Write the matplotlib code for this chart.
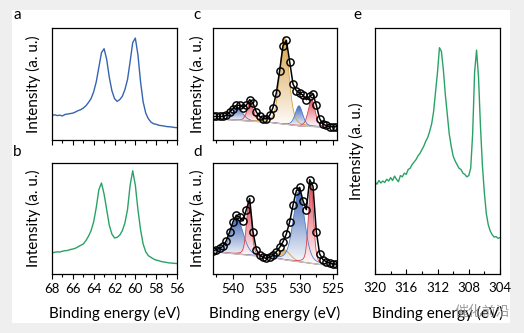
import numpy as np
import matplotlib
matplotlib.use('Agg')
import matplotlib.pyplot as plt
from matplotlib.colors import LinearSegmentedColormap
from matplotlib.ticker import MultipleLocator
from matplotlib.patches import Rectangle

plt.rcParams['font.family'] = ['Lato', 'DejaVu Sans']

# ---------------------------------------------------------------------------
# Data (intensities normalised 0..1 to the frame)
# ---------------------------------------------------------------------------

# a / b : Ga 3d-like region, 68 -> 56 eV, 0.25 eV steps
ab_energy = np.linspace(68, 56, 49)
a_intensity = [
    0.220, 0.225, 0.218, 0.222, 0.215, 0.228, 0.232, 0.236, 0.240,
    0.250, 0.262, 0.270, 0.285, 0.305, 0.335, 0.370, 0.430,
    0.520, 0.650, 0.780, 0.815, 0.720, 0.560, 0.440, 0.370,
    0.345, 0.360, 0.390, 0.450, 0.540, 0.700, 0.870, 0.910,
    0.760, 0.520, 0.340, 0.240, 0.190, 0.160, 0.145, 0.140,
    0.132, 0.128, 0.125, 0.120, 0.118, 0.116, 0.112, 0.110,
]
b_intensity = [
    0.190, 0.195, 0.200, 0.198, 0.205, 0.210, 0.212, 0.220, 0.225,
    0.232, 0.245, 0.258, 0.270, 0.300, 0.340, 0.390, 0.470,
    0.600, 0.760, 0.820, 0.720, 0.580, 0.440, 0.360, 0.325,
    0.330, 0.350, 0.390, 0.460, 0.580, 0.800, 0.930, 0.800,
    0.580, 0.400, 0.270, 0.200, 0.165, 0.150, 0.135, 0.125,
    0.120, 0.112, 0.108, 0.104, 0.100, 0.098, 0.096, 0.094,
]

# c / d : O 1s region, 543 -> 524.5 eV, 0.5 eV steps (measured points)
cd_energy = np.linspace(543, 524.5, 38)
c_points = [
    0.21, 0.21, 0.21, 0.21, 0.22, 0.25, 0.28, 0.31, 0.31, 0.29,
    0.31, 0.36, 0.33, 0.25, 0.21, 0.19, 0.19, 0.22, 0.29, 0.42,
    0.62, 0.84, 0.89, 0.70, 0.50, 0.44, 0.42, 0.40, 0.36, 0.39,
    0.41, 0.31, 0.19, 0.14, 0.13, 0.12, 0.12, 0.12,
]
d_points = [
    0.21, 0.22, 0.23, 0.25, 0.30, 0.38, 0.47, 0.53, 0.51, 0.48,
    0.58, 0.68, 0.38, 0.22, 0.17, 0.15, 0.14, 0.15, 0.17, 0.20,
    0.24, 0.29, 0.36, 0.47, 0.62, 0.75, 0.78, 0.66, 0.58, 0.85,
    0.79, 0.38, 0.18, 0.13, 0.11, 0.10, 0.09, 0.09,
]

# background (Shirley) knots
c_bg_energy = [543, 535, 530, 524.4]
c_bg_level = [0.19, 0.16, 0.125, 0.11]
d_bg_energy = [543, 535, 532, 527, 524.4]
d_bg_level = [0.20, 0.155, 0.125, 0.085, 0.08]

# fitted components: centre (eV), height, FWHM (eV)
comp_colors = ['#3a63b3', '#df4555', '#d59b3c', '#3a63b3', '#df4555']
comp_lines = ['#4b7bd0', '#d9404d', '#d4a040', '#4b7bd0', '#d9404d']
c_centres = [539.3, 537.4, 532.3, 530.1, 528.2]
c_heights = [0.11, 0.17, 0.78, 0.18, 0.24]
c_fwhm = [1.8, 1.1, 1.6, 1.3, 1.2]
d_centres = [539.4, 537.6, 532.3, 530.1, 528.3]
d_heights = [0.32, 0.48, 0.09, 0.64, 0.72]
d_fwhm = [2.2, 0.9, 2.0, 2.0, 0.9]

# e : 320 -> 304 eV, 0.25 eV steps
e_energy = np.linspace(320, 304, 65)
e_intensity = [
    0.375, 0.365, 0.380, 0.370, 0.378, 0.372, 0.385, 0.378,
    0.392, 0.380, 0.398, 0.385, 0.375, 0.400, 0.395, 0.410,
    0.405, 0.425, 0.430, 0.445, 0.455, 0.465, 0.480, 0.490,
    0.505, 0.520, 0.540, 0.555, 0.580, 0.610, 0.660, 0.740,
    0.820, 0.920, 0.905, 0.830, 0.730, 0.650, 0.570, 0.520,
    0.480, 0.460, 0.445, 0.430, 0.425, 0.410, 0.405, 0.395,
    0.400, 0.430, 0.570, 0.820, 0.910, 0.800, 0.600, 0.440,
    0.330, 0.245, 0.200, 0.175, 0.160, 0.150, 0.152, 0.145,
    0.148,
]

BLUE = '#3564b0'
GREEN = '#2aa266'

# ---------------------------------------------------------------------------
# Helpers
# ---------------------------------------------------------------------------

W, H = 524, 333


def rect(l, t, r, b):
    return [l / W, 1 - b / H, (r - l) / W, (b - t) / H]


def pseudo_voigt(x, c, h, w, eta=0.3):
    u = ((x - c) / w) ** 2
    return h * ((1 - eta) * np.exp(-4 * np.log(2) * u) + eta / (1 + 4 * u))


def style(ax, xlim, major, minor, inward=False, labels=True, ypad=7):
    ax.set_xlim(*xlim)
    ax.set_ylim(0, 1)
    ax.set_yticks([])
    ax.xaxis.set_major_locator(MultipleLocator(major))
    ax.xaxis.set_minor_locator(MultipleLocator(minor))
    d = 'in' if inward else 'out'
    ax.tick_params(axis='x', which='major', direction=d, length=3.5,
                   width=0.8, labelsize=9.5, pad=6 if inward else 3)
    ax.tick_params(axis='x', which='minor', direction=d, length=2, width=0.8)
    if not labels:
        ax.tick_params(axis='x', labelbottom=False)
    else:
        ax.set_xlabel('Binding energy (eV)', fontsize=11, labelpad=8)
    for s in ax.spines.values():
        s.set_linewidth(0.9)
    ax.set_ylabel('Intensity (a. u.)', fontsize=11, labelpad=ypad)


def grad_fill(ax, x, base, top, color):
    comp = top - base
    m = comp > 0.004
    xs, b, t = x[m], base[m], top[m]
    poly = ax.fill_between(xs, b, t, facecolor='none', edgecolor='none')
    cmap = LinearSegmentedColormap.from_list('g', ['white', color])
    grad = np.linspace(0, 1, 256).reshape(-1, 1)
    im = ax.imshow(grad, cmap=cmap, aspect='auto', origin='lower',
                   extent=[xs.min(), xs.max(), b.min(), t.max()],
                   zorder=1, alpha=0.95)
    im.set_clip_path(poly.get_paths()[0], transform=ax.transData)


def fitted_panel(ax, pts, bg_e, bg_v, centres, heights, widths):
    x = np.linspace(543, 524.4, 600)
    bg = np.interp(x, bg_e[::-1], bg_v[::-1])
    for c, h, w, fc, lc in zip(centres, heights, widths, comp_colors, comp_lines):
        comp = pseudo_voigt(x, c, h, w)
        grad_fill(ax, x, bg, bg + comp, fc)
        ax.plot(x, bg + comp, color=lc, lw=0.6, zorder=2)
    ax.plot(x, bg, color='#c4c4c4', lw=0.9, zorder=2)
    ax.plot(cd_energy, pts, color='black', lw=1.1, zorder=3)
    ax.plot(cd_energy, pts, ls='none', marker='o', ms=5.2, mfc='none',
            mec='black', mew=1.05, zorder=4)


# ---------------------------------------------------------------------------
# Figure
# ---------------------------------------------------------------------------

fig = plt.figure(figsize=(W / 100, H / 100), dpi=100, facecolor='#efefef')
fig.patches.append(Rectangle((12 / W, 1 - 323 / H), 498 / W, 313 / H,
                             transform=fig.transFigure, facecolor='white',
                             edgecolor='none', zorder=-5))

ax_a = fig.add_axes(rect(52, 28, 177, 140))
ax_b = fig.add_axes(rect(52, 163, 177, 274))
ax_c = fig.add_axes(rect(213, 28, 337, 140))
ax_d = fig.add_axes(rect(213, 163, 337, 274))
ax_e = fig.add_axes(rect(375, 28, 500, 274))

ax_a.plot(ab_energy, a_intensity, color=BLUE, lw=1.0)
ax_b.plot(ab_energy, b_intensity, color=GREEN, lw=1.0)
ax_e.plot(e_energy, e_intensity, color=GREEN, lw=1.0)

fitted_panel(ax_c, c_points, c_bg_energy, c_bg_level, c_centres, c_heights, c_fwhm)
fitted_panel(ax_d, d_points, d_bg_energy, d_bg_level, d_centres, d_heights, d_fwhm)

style(ax_a, (68, 56), 2, 1, labels=False, ypad=8)
style(ax_b, (68, 56), 2, 1, ypad=8)
style(ax_c, (543, 524.4), 5, 2.5, labels=False, ypad=6)
style(ax_d, (543, 524.4), 5, 2.5, ypad=6)
style(ax_e, (320, 304), 4, 2, inward=True, ypad=8)

for letter, x, y in [('a', 13, 15), ('b', 13, 152), ('c', 193, 15),
                     ('d', 193, 152), ('e', 353, 15)]:
    fig.text(x / W, 1 - y / H, letter, fontsize=11, ha='left', va='center')

# watermark of the source page, overlapping the label as in the original
fig.text(455 / W, 1 - 312 / H, '催化前沿', fontsize=10, color='#8c8c8c',
         alpha=0.85, ha='left', va='center',
         family=['Noto Sans CJK SC', 'DejaVu Sans'])

fig.savefig('out.png', dpi=100, facecolor=fig.get_facecolor())
